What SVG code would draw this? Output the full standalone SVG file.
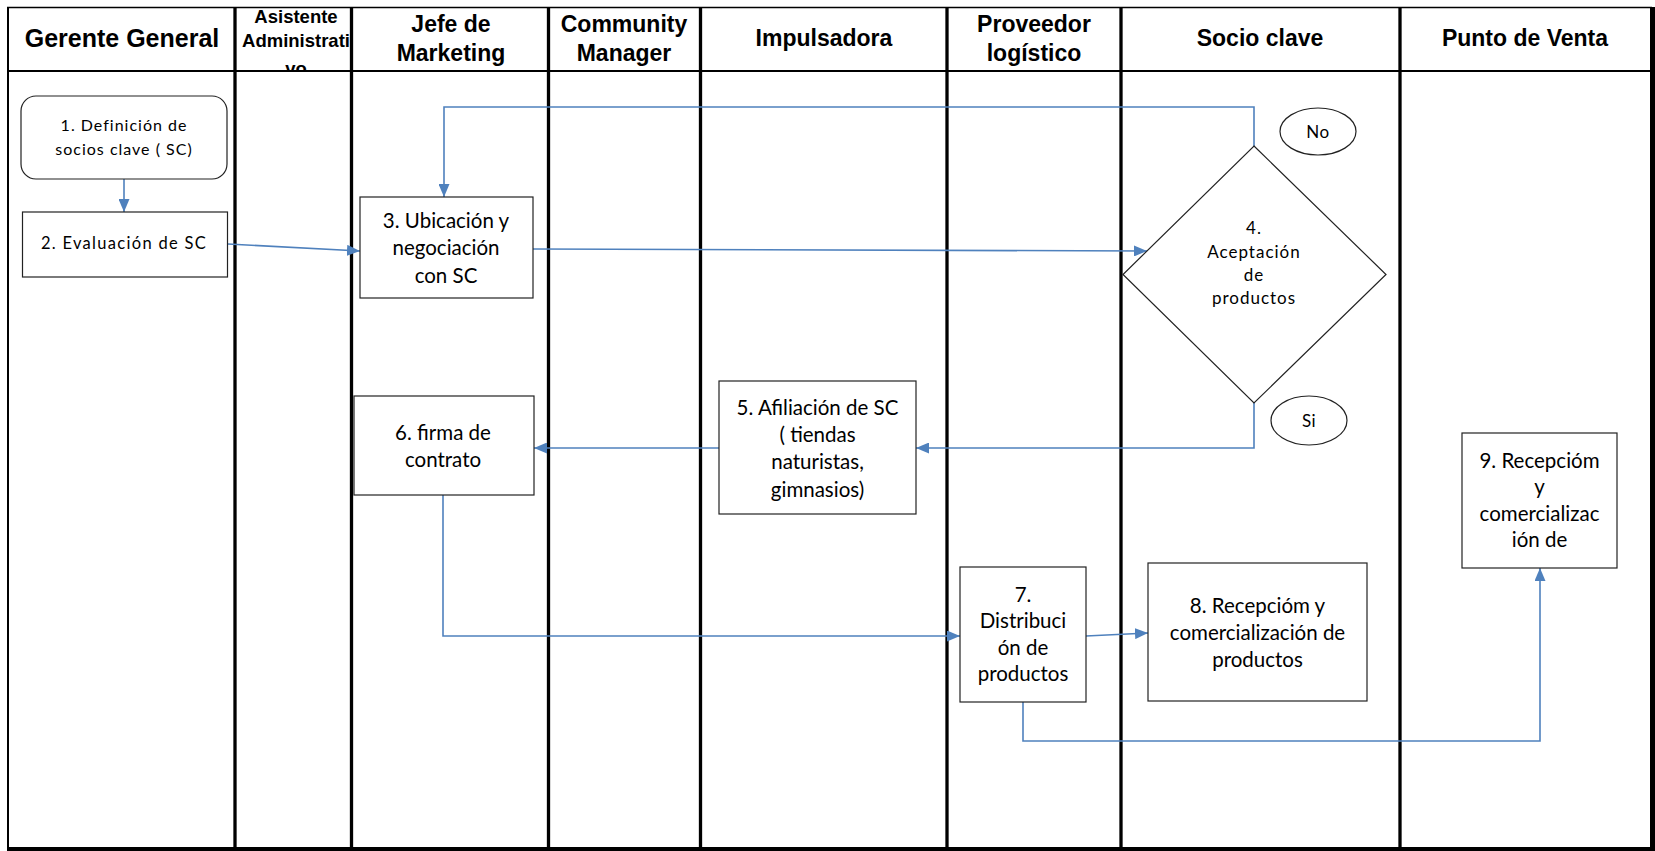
<svg xmlns="http://www.w3.org/2000/svg" width="1655" height="851" viewBox="0 0 1655 851">
  <style>
    .lane { stroke: #000; stroke-width: 3.3; fill: none; }
    .frame { stroke: #000; fill: none; }
    .hdr { font-family: "Liberation Sans", Arial, sans-serif; font-weight: bold; font-size: 23px; fill: #000; text-anchor: middle; }
    .box { fill: #fff; stroke: #222; stroke-width: 1.2; }
    .txt { font-family: Lato, "Open Sans", sans-serif; font-size: 20.5px; fill: #000; text-anchor: middle; }
    .sm { font-family: Lato, "Open Sans", sans-serif; font-size: 16px; letter-spacing: 1px; fill: #000; text-anchor: middle; }
    .flow { stroke: #4F81BD; stroke-width: 1.6; fill: none; }
  </style>
  <defs>
    <marker id="arrow" viewBox="0 0 13 11" refX="13" refY="5.5" markerWidth="13" markerHeight="11" markerUnits="userSpaceOnUse" orient="auto">
      <path d="M0,0 L13,5.5 L0,11 Z" fill="#4F81BD"/>
    </marker>
    <clipPath id="cell2">
      <rect x="237" y="7" width="113" height="63"/>
    </clipPath>
  </defs>

  <rect width="1655" height="851" fill="#fff"/>

  <!-- swimlane grid -->
  <g id="lanes">
    <line class="frame" x1="8" y1="7" x2="8" y2="849" stroke-width="2"/>
    <line class="frame" x1="7" y1="7.5" x2="1652" y2="7.5" stroke-width="1.6"/>
    <line class="frame" x1="7" y1="71" x2="1652" y2="71" stroke-width="2.2"/>
    <rect x="1650" y="7" width="5" height="844" fill="#000"/>
    <rect x="7" y="847" width="1648" height="4" fill="#000"/>
    <line class="lane" x1="235" y1="7" x2="235" y2="848"/>
    <line class="lane" x1="351.5" y1="7" x2="351.5" y2="848"/>
    <line class="lane" x1="548.5" y1="7" x2="548.5" y2="848"/>
    <line class="lane" x1="700.5" y1="7" x2="700.5" y2="848"/>
    <line class="lane" x1="947" y1="7" x2="947" y2="848"/>
    <line class="lane" x1="1121" y1="7" x2="1121" y2="848"/>
    <line class="lane" x1="1400" y1="7" x2="1400" y2="848"/>
  </g>

  <!-- lane headers -->
  <g id="headers">
    <text class="hdr" x="122" y="47" style="font-size:25px">Gerente General</text>
    <g clip-path="url(#cell2)">
      <text class="hdr" x="296" y="22.7" style="font-size:18.5px">Asistente</text>
      <text class="hdr" x="296" y="47" style="font-size:18.5px">Administrati</text>
      <text class="hdr" x="296" y="75" style="font-size:18.5px">vo</text>
    </g>
    <text class="hdr" x="451" y="32">Jefe de</text>
    <text class="hdr" x="451" y="61">Marketing</text>
    <text class="hdr" x="624" y="32">Community</text>
    <text class="hdr" x="624" y="61">Manager</text>
    <text class="hdr" x="824" y="46">Impulsadora</text>
    <text class="hdr" x="1034" y="32">Proveedor</text>
    <text class="hdr" x="1034" y="61">logístico</text>
    <text class="hdr" x="1260" y="46">Socio clave</text>
    <text class="hdr" x="1525" y="46">Punto de Venta</text>
  </g>

  <!-- connectors -->
  <g id="connectors">
    <line class="flow" x1="124" y1="179" x2="124" y2="212" marker-end="url(#arrow)"/>
    <line class="flow" x1="228" y1="244" x2="360" y2="251" marker-end="url(#arrow)"/>
    <line class="flow" x1="533" y1="249" x2="1147" y2="251" marker-end="url(#arrow)"/>
    <polyline class="flow" points="1254,146 1254,107 444,107 444,197" marker-end="url(#arrow)"/>
    <polyline class="flow" points="1254,403 1254,448 916,448" marker-end="url(#arrow)"/>
    <line class="flow" x1="719" y1="448" x2="534" y2="448" marker-end="url(#arrow)"/>
    <polyline class="flow" points="443,495 443,636 960,636" marker-end="url(#arrow)"/>
    <line class="flow" x1="1086" y1="636" x2="1148" y2="633" marker-end="url(#arrow)"/>
    <polyline class="flow" points="1023,702 1023,741 1540,741 1540,568" marker-end="url(#arrow)"/>
  </g>

  <!-- process steps -->
  <g id="n1">
    <rect class="box" x="21" y="96" width="206" height="83" rx="15"/>
    <text class="sm" x="124" y="131">1. Definición de</text>
    <text class="sm" x="124" y="155">socios clave ( SC)</text>
  </g>
  <g id="n2">
    <rect class="box" x="22.5" y="212" width="205" height="65"/>
    <text class="sm" x="124" y="249" style="font-size:16.5px;letter-spacing:1.3px">2. Evaluación de SC</text>
  </g>
  <g id="n3">
    <rect class="box" x="360" y="197" width="173" height="101"/>
    <text class="txt" x="446" y="228">3. Ubicación y</text>
    <text class="txt" x="446" y="255">negociación</text>
    <text class="txt" x="446" y="283">con SC</text>
  </g>
  <g id="n4">
    <polygon class="box" points="1254,146 1386,274.5 1254,403 1123,274.5"/>
    <text class="sm" x="1254" y="234" style="font-size:17px">4.</text>
    <text class="sm" x="1254" y="258" style="font-size:17px">Aceptación</text>
    <text class="sm" x="1254" y="281" style="font-size:17px">de</text>
    <text class="sm" x="1254" y="304" style="font-size:17px">productos</text>
  </g>
  <g id="no">
    <ellipse class="box" cx="1318" cy="131.5" rx="38" ry="23.5"/>
    <text class="sm" x="1318" y="137.5" style="font-size:17px;letter-spacing:0.5px">No</text>
  </g>
  <g id="si">
    <ellipse class="box" cx="1309" cy="420.5" rx="38" ry="24.5"/>
    <text class="sm" x="1309" y="426.5" style="font-size:17px;letter-spacing:0.5px">Si</text>
  </g>
  <g id="n5">
    <rect class="box" x="719" y="381" width="197" height="133"/>
    <text class="txt" x="817.5" y="415">5. Afiliación de SC</text>
    <text class="txt" x="817.5" y="442">( tiendas</text>
    <text class="txt" x="817.5" y="469">naturistas,</text>
    <text class="txt" x="817.5" y="497">gimnasios)</text>
  </g>
  <g id="n6">
    <rect class="box" x="354" y="396" width="180" height="99"/>
    <text class="txt" x="443" y="440">6. firma de</text>
    <text class="txt" x="443" y="467">contrato</text>
  </g>
  <g id="n7">
    <rect class="box" x="960" y="567" width="126" height="135"/>
    <text class="txt" x="1023" y="602">7.</text>
    <text class="txt" x="1023" y="628">Distribuci</text>
    <text class="txt" x="1023" y="655">ón de</text>
    <text class="txt" x="1023" y="681">productos</text>
  </g>
  <g id="n8">
    <rect class="box" x="1148" y="563" width="219" height="138"/>
    <text class="txt" x="1257.5" y="613">8. Recepcióm y</text>
    <text class="txt" x="1257.5" y="640">comercialización de</text>
    <text class="txt" x="1257.5" y="667">productos</text>
  </g>
  <g id="n9">
    <rect class="box" x="1462" y="433" width="155" height="135"/>
    <text class="txt" x="1539.5" y="468">9. Recepcióm</text>
    <text class="txt" x="1539.5" y="494">y</text>
    <text class="txt" x="1539.5" y="521">comercializac</text>
    <text class="txt" x="1539.5" y="547">ión de</text>
  </g>
</svg>
